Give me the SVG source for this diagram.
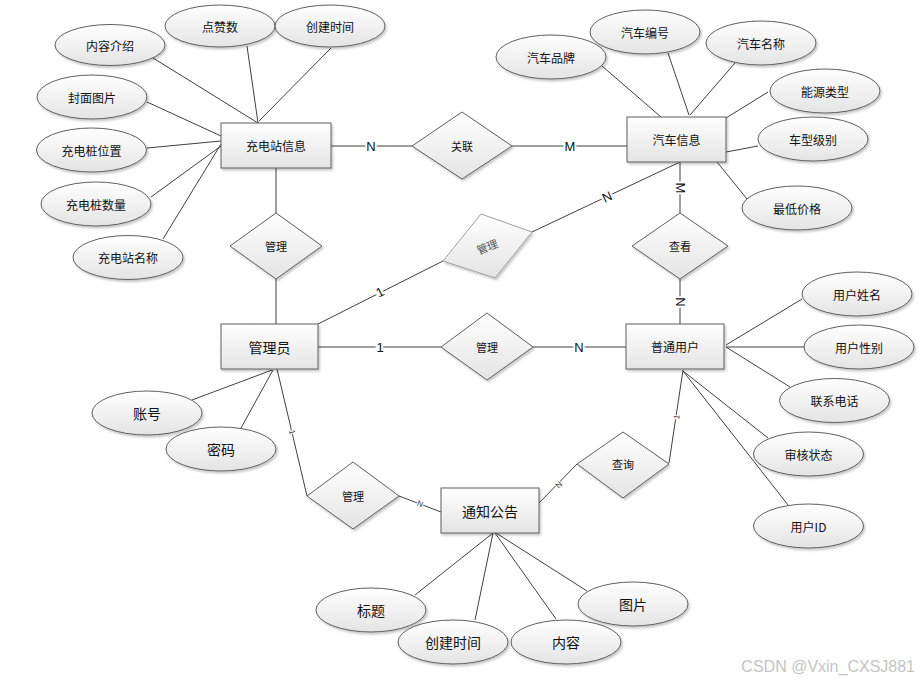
<svg xmlns="http://www.w3.org/2000/svg" width="919" height="681" viewBox="0 0 919 681">
<defs>
<linearGradient id="g" x1="0" y1="0" x2="0" y2="1">
<stop offset="0" stop-color="#ffffff"/>
<stop offset="1" stop-color="#e4e4e4"/>
</linearGradient>
<filter id="sh" x="-20%" y="-20%" width="140%" height="150%">
<feDropShadow dx="1.5" dy="2" stdDeviation="1" flood-color="#000" flood-opacity="0.22"/>
</filter>
</defs>
<style>
.sh{fill:url(#g);stroke:#5f5f5f;stroke-width:1;filter:url(#sh)}
.lt{fill:url(#g);stroke:#a0a0a0;stroke-width:1;filter:url(#sh)}
.t{font-family:"Noto Sans CJK SC","Liberation Sans",sans-serif;font-size:12px;fill:#111;text-anchor:middle;dominant-baseline:central}
.b{font-size:14px}
.d{font-size:11px}
.c line,.c polyline{stroke:#404040;stroke-width:1;fill:none}
.l{font-family:"Liberation Sans",Arial,sans-serif;font-size:13px;fill:#111;text-anchor:middle;dominant-baseline:central;stroke:#fff;stroke-width:4;paint-order:stroke}
.s{font-family:"Liberation Sans",Arial,sans-serif;font-size:8px;fill:#333;text-anchor:middle;dominant-baseline:central;stroke:#fff;stroke-width:2;paint-order:stroke}
</style>
<rect width="919" height="681" fill="#fff"/>
<g id="connectors" class="c">
<!-- 充电站信息 attributes -->
<line x1="153" y1="58" x2="258" y2="123"/>
<line x1="247" y1="46" x2="258" y2="123"/>
<line x1="331" y1="48" x2="259" y2="121"/>
<line x1="147" y1="102" x2="221" y2="136"/>
<line x1="147" y1="148" x2="221" y2="141"/>
<line x1="151" y1="197" x2="221" y2="146"/>
<line x1="163" y1="239" x2="221" y2="144"/>
<!-- 汽车信息 attributes -->
<line x1="602" y1="66" x2="661" y2="117"/>
<line x1="668" y1="53" x2="689" y2="115"/>
<line x1="735" y1="63" x2="690" y2="115"/>
<line x1="768" y1="92" x2="726" y2="118"/>
<line x1="758" y1="146" x2="726" y2="152"/>
<line x1="747" y1="199" x2="717" y2="162"/>
<!-- 普通用户 attributes -->
<line x1="802" y1="299" x2="726" y2="345"/>
<line x1="804" y1="347" x2="726" y2="347"/>
<line x1="790" y1="387" x2="726" y2="347"/>
<line x1="768" y1="438" x2="683" y2="371"/>
<line x1="788" y1="505" x2="683" y2="371"/>
<!-- 管理员 attributes -->
<line x1="192" y1="400" x2="272" y2="370"/>
<line x1="241" y1="428" x2="273" y2="370"/>
<!-- 通知公告 attributes -->
<line x1="415" y1="595" x2="493" y2="533"/>
<line x1="475" y1="620" x2="493" y2="533"/>
<line x1="556" y1="619" x2="495" y2="533"/>
<line x1="587" y1="591" x2="496" y2="533"/>
<!-- relationships -->
<line x1="331" y1="146" x2="412" y2="146"/>
<line x1="512" y1="146" x2="627" y2="146"/>
<line x1="276" y1="168" x2="276" y2="213"/>
<line x1="276" y1="279" x2="276" y2="324"/>
<line x1="318" y1="324" x2="443" y2="261"/>
<line x1="532" y1="232" x2="680" y2="162"/>
<line x1="680" y1="162" x2="680" y2="213"/>
<line x1="680" y1="279" x2="680" y2="324"/>
<line x1="318" y1="347" x2="441" y2="347"/>
<line x1="533" y1="347" x2="626" y2="347"/>
<line x1="277" y1="369" x2="307" y2="496"/>
<line x1="399" y1="496" x2="441" y2="512"/>
<line x1="539" y1="503" x2="577" y2="464"/>
<line x1="669" y1="463" x2="683" y2="370"/>
<text class="l" x="371" y="146">N</text>
<text class="l" x="570" y="146">M</text>
<text class="l" transform="translate(380 292) rotate(-27)">1</text>
<text class="l" transform="translate(607 197) rotate(-25)">N</text>
<text class="l" transform="translate(680 188) rotate(90)">M</text>
<text class="l" transform="translate(680 302) rotate(90)">N</text>
<text class="l" x="380" y="347">1</text>
<text class="l" x="579" y="347">N</text>
<text class="s" transform="translate(292 432) rotate(77)">1</text>
<text class="s" transform="translate(420 504) rotate(21)">N</text>
<text class="s" transform="translate(559 485) rotate(-46)">N</text>
<text class="s" transform="translate(677 417) rotate(-81)">1</text>
</g>
<g id="e-nrjs"><ellipse class="sh" cx="110" cy="45" rx="55" ry="20.5"/><text class="t" x="110" y="45">内容介绍</text></g>
<g id="e-dzs"><ellipse class="sh" cx="220" cy="26" rx="55" ry="21"/><text class="t" x="220" y="26">点赞数</text></g>
<g id="e-cjsj1"><ellipse class="sh" cx="330" cy="26" rx="55" ry="21"/><text class="t" x="330" y="26">创建时间</text></g>
<g id="e-fmtp"><ellipse class="sh" cx="92" cy="97" rx="55" ry="22"/><text class="t" x="92" y="97">封面图片</text></g>
<g id="e-cdzwz"><ellipse class="sh" cx="91.5" cy="150" rx="55" ry="22"/><text class="t" x="91.5" y="150">充电桩位置</text></g>
<g id="e-cdzsl"><ellipse class="sh" cx="96" cy="204" rx="55" ry="22"/><text class="t" x="96" y="204">充电桩数量</text></g>
<g id="e-cdzmc"><ellipse class="sh" cx="128" cy="257.5" rx="55" ry="22"/><text class="t" x="128" y="257.5">充电站名称</text></g>
<g id="e-qcpp"><ellipse class="sh" cx="551" cy="57" rx="55" ry="22"/><text class="t" x="551" y="57">汽车品牌</text></g>
<g id="e-qcbh"><ellipse class="sh" cx="645" cy="32" rx="55" ry="22"/><text class="t" x="645" y="32">汽车编号</text></g>
<g id="e-qcmc"><ellipse class="sh" cx="761" cy="43" rx="55" ry="22"/><text class="t" x="761" y="43">汽车名称</text></g>
<g id="e-nylx"><ellipse class="sh" cx="825" cy="91" rx="55" ry="22"/><text class="t" x="825" y="91">能源类型</text></g>
<g id="e-cxjb"><ellipse class="sh" cx="813" cy="139" rx="55" ry="22"/><text class="t" x="813" y="139">车型级别</text></g>
<g id="e-zdjg"><ellipse class="sh" cx="797" cy="208" rx="55" ry="22"/><text class="t" x="797" y="208">最低价格</text></g>
<g id="e-yhxm"><ellipse class="sh" cx="857" cy="294" rx="55" ry="22"/><text class="t" x="857" y="294">用户姓名</text></g>
<g id="e-yhxb"><ellipse class="sh" cx="859" cy="347" rx="55" ry="22"/><text class="t" x="859" y="347">用户性别</text></g>
<g id="e-lxdh"><ellipse class="sh" cx="834.5" cy="400.5" rx="55" ry="22"/><text class="t" x="834.5" y="400.5">联系电话</text></g>
<g id="e-shzt"><ellipse class="sh" cx="808.5" cy="454" rx="55" ry="22"/><text class="t" x="808.5" y="454">审核状态</text></g>
<g id="e-yhid"><ellipse class="sh" cx="808.5" cy="526" rx="55" ry="22"/><text class="t" x="808.5" y="526">用户ID</text></g>
<g id="e-zh"><ellipse class="sh" cx="147" cy="413" rx="55" ry="22"/><text class="t b" x="147" y="413">账号</text></g>
<g id="e-mm"><ellipse class="sh" cx="221" cy="449" rx="55" ry="22"/><text class="t b" x="221" y="449">密码</text></g>
<g id="e-bt"><ellipse class="sh" cx="371" cy="610" rx="55" ry="22"/><text class="t b" x="371" y="610">标题</text></g>
<g id="e-cjsj2"><ellipse class="sh" cx="453" cy="642" rx="55" ry="22"/><text class="t b" x="453" y="642">创建时间</text></g>
<g id="e-nr"><ellipse class="sh" cx="566" cy="642" rx="55" ry="22"/><text class="t b" x="566" y="642">内容</text></g>
<g id="e-tp"><ellipse class="sh" cx="633" cy="604" rx="55" ry="22"/><text class="t b" x="633" y="604">图片</text></g>
<g id="n-cdzxx"><rect class="sh" x="221" y="123" width="110" height="45"/><text class="t" x="276" y="145.5">充电站信息</text></g>
<g id="n-qcxx"><rect class="sh" x="627" y="117" width="99" height="45"/><text class="t" x="676.5" y="139.5">汽车信息</text></g>
<g id="n-gly"><rect class="sh" x="221" y="324" width="97" height="45"/><text class="t b" x="269.5" y="346.5">管理员</text></g>
<g id="n-ptyh"><rect class="sh" x="626" y="324" width="98" height="45"/><text class="t" x="675" y="346.5">普通用户</text></g>
<g id="n-tzgg"><rect class="sh" x="441" y="488" width="98" height="45"/><text class="t b" x="490" y="510.5">通知公告</text></g>
<g id="r-gl"><polygon class="sh" points="412,146 462,112 512,146 462,179"/><text class="t d" x="462" y="146">关联</text></g>
<g id="r-gl1"><polygon class="sh" points="230,246 276,213 322,246 276,279"/><text class="t d" x="276" y="246">管理</text></g>
<g id="r-gl2"><polygon class="lt" points="443,261 481,214 532,232 495,278"/><text class="t d" fill="#555" style="fill:#555" transform="translate(487 246) rotate(-22)">管理</text></g>
<g id="r-ck"><polygon class="sh" points="632,246 680,213 728,246 680,279"/><text class="t d" x="680" y="246">查看</text></g>
<g id="r-gl3"><polygon class="sh" points="441,347 487,313 533,347 487,380"/><text class="t d" x="487" y="347">管理</text></g>
<g id="r-gl4"><polygon class="sh" points="307,496 353,462 399,496 353,529"/><text class="t d" x="353" y="496">管理</text></g>
<g id="r-cx"><polygon class="sh" points="577,464 623,432 669,464 623,498"/><text class="t d" x="623" y="464">查询</text></g>
<text x="915" y="672" text-anchor="end" font-family="Liberation Sans, Arial, sans-serif" font-size="16" fill="#c4c4c4">CSDN @Vxin_CXSJ881</text>
</svg>
